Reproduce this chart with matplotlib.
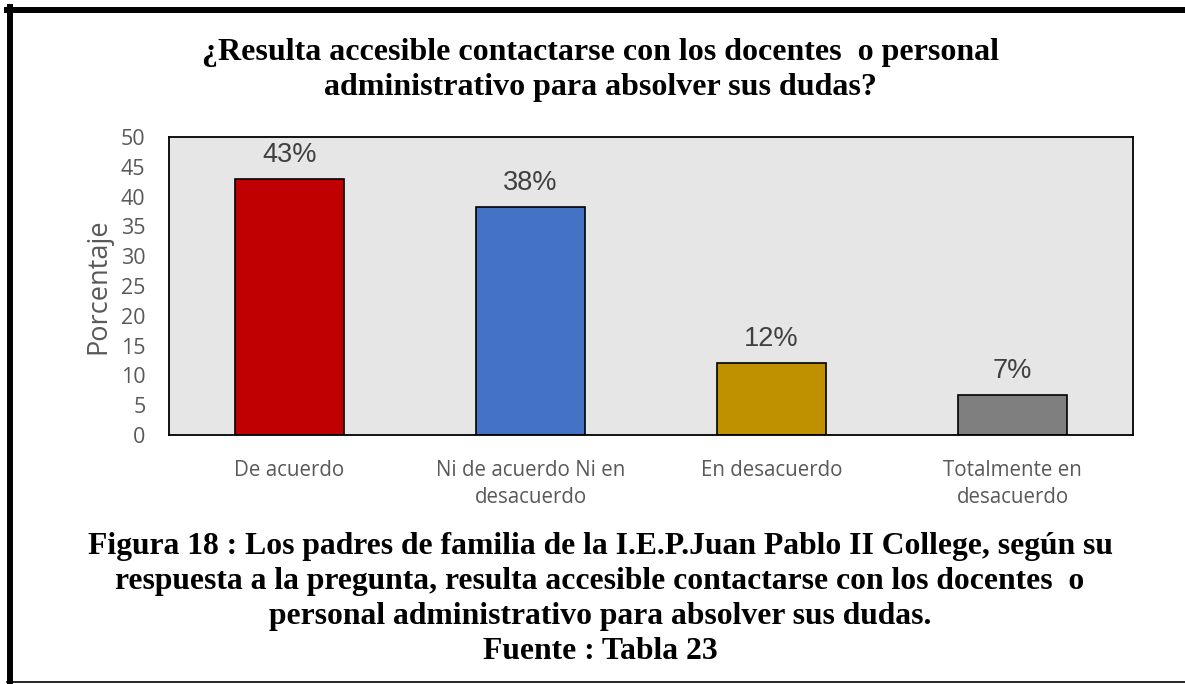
import matplotlib
matplotlib.use("Agg")
import matplotlib.pyplot as plt
from matplotlib.lines import Line2D

categories = ["De acuerdo", "Ni de acuerdo Ni en\ndesacuerdo", "En desacuerdo", "Totalmente en\ndesacuerdo"]
values = [43.0, 38.3, 12.1, 6.7]
bar_colors = ["#C00000", "#4472C4", "#BF9000", "#7F7F7F"]
yticks = [0, 5, 10, 15, 20, 25, 30, 35, 40, 45, 50]

title = "¿Resulta accesible contactarse con los docentes  o personal\nadministrativo para absolver sus dudas?"
caption = ("Figura 18 : Los padres de familia de la I.E.P.Juan Pablo II College, según su\n"
           "respuesta a la pregunta, resulta accesible contactarse con los docentes  o\n"
           "personal administrativo para absolver sus dudas.\n"
           "Fuente : Tabla 23")

W, H = 1185, 684
fig = plt.figure(figsize=(W / 100, H / 100), dpi=100)
fig.patch.set_facecolor("white")

ax = fig.add_axes([169 / W, 1 - 435 / H, 964 / W, 298 / H])
ax.set_facecolor("#E6E6E6")
x = list(range(len(categories)))
bars = ax.bar(x, values, width=0.456, color=bar_colors, edgecolor="black", linewidth=1.2, zorder=2)
ax.set_xlim(-0.5, len(categories) - 0.5)
ax.set_ylim(0, 50)
ax.set_yticks(yticks)
ax.set_xticks(x)
ax.set_xticklabels(categories, fontfamily="Open Sans", fontsize=14.8, color="#595959", linespacing=1.4)
ax.tick_params(axis="x", length=0, pad=18)
ax.tick_params(axis="y", length=0, pad=17, labelsize=15.5, labelcolor="#595959")
for lab in ax.get_yticklabels():
    lab.set_fontfamily("Open Sans")
for s in ax.spines.values():
    s.set_color("black")
    s.set_linewidth(1.3)
ax.set_ylabel("Porcentaje", fontfamily="Open Sans", fontsize=19.5, color="#595959", labelpad=6)

for b, v in zip(bars, values):
    ax.annotate(f"{v:.0f}%", (b.get_x() + b.get_width() / 2, v), xytext=(0, 8), textcoords="offset points",
                ha="center", va="bottom", fontfamily="Liberation Sans", fontsize=19.5, color="#404040")

fig.text(600 / W, 1 - 70 / H, title, ha="center", va="center", fontfamily="Liberation Serif",
         fontweight="bold", fontsize=23, linespacing=1.25)
fig.text(600 / W, 1 - 599 / H, caption, ha="center", va="center", fontfamily="Liberation Serif",
         fontweight="bold", fontsize=22.8, linespacing=1.28)

# outer frame
fig.add_artist(Line2D([10 / W, 10 / W], [0, 1 - 7 / H], transform=fig.transFigure, color="black", linewidth=4.3))
fig.add_artist(Line2D([7 / W, 1], [1 - 10 / H, 1 - 10 / H], transform=fig.transFigure, color="black", linewidth=4.3))
fig.add_artist(Line2D([7 / W, 1], [1 - 682 / H, 1 - 682 / H], transform=fig.transFigure, color="black", linewidth=1.2))

fig.savefig("out.png", dpi=100)
